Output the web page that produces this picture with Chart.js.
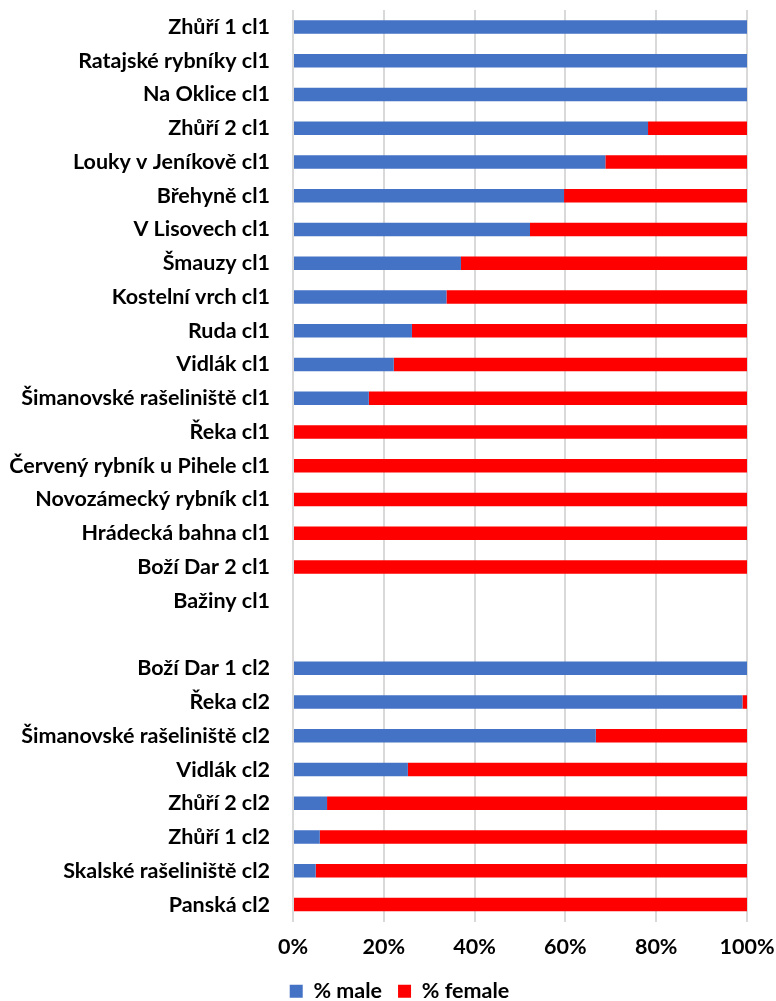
<!DOCTYPE html>
<html>
<head>
<meta charset="utf-8">
<script src="https://cdn.jsdelivr.net/npm/chart.js@4"></script>
<style>
  html, body { margin: 0; padding: 0; background: #fff; }
  #wrap { width: 776px; height: 1001px; position: relative; }
</style>
</head>
<body>
<div id="wrap"><canvas id="chart"></canvas></div>
<script>
// sites, top to bottom ('' is the empty spacer row between cl1 and cl2)
const labels = [
  'Zhůří 1 cl1', 'Ratajské rybníky cl1', 'Na Oklice cl1', 'Zhůří 2 cl1',
  'Louky v Jeníkově cl1', 'Břehyně cl1', 'V Lisovech cl1', 'Šmauzy cl1',
  'Kostelní vrch cl1', 'Ruda cl1', 'Vidlák cl1', 'Šimanovské rašeliniště cl1',
  'Řeka cl1', 'Červený rybník u Pihele cl1', 'Novozámecký rybník cl1',
  'Hrádecká bahna cl1', 'Boží Dar 2 cl1', 'Bažiny cl1', '',
  'Boží Dar 1 cl2', 'Řeka cl2', 'Šimanovské rašeliniště cl2', 'Vidlák cl2',
  'Zhůří 2 cl2', 'Zhůří 1 cl2', 'Skalské rašeliniště cl2', 'Panská cl2'
];

const male = [
  100, 100, 100, 78.2,
  68.8, 59.7, 52.2, 37.0,
  33.8, 26.2, 22.2, 16.7,
  0, 0, 0,
  0, 0, null, null,
  100, 99.0, 66.7, 25.3,
  7.5, 5.9, 5.0, 0
];

const female = [
  0, 0, 0, 21.8,
  31.2, 40.3, 47.8, 63.0,
  66.2, 73.8, 77.8, 83.3,
  100, 100, 100,
  100, 100, null, null,
  0, 1.0, 33.3, 74.7,
  92.5, 94.1, 95.0, 100
];

const xTicks = [0, 20, 40, 60, 80, 100];

const labelFont = { family: 'Lato', weight: 'bold', size: 21.5 };

// nudge the legend a bit right, like the original
const legendShift = {
  id: 'legendShift',
  afterLayout: function(chart) {
    if (chart.legend) {
      chart.legend.left += 22;
      chart.legend.right += 22;
    }
  }
};

const ctx = document.getElementById('chart');

new Chart(ctx, {
  type: 'bar',
  data: {
    labels: labels,
    datasets: [
      {
        label: '% male',
        data: male,
        backgroundColor: '#4472c4',
        barPercentage: 0.4,
        categoryPercentage: 1
      },
      {
        label: '% female',
        data: female,
        backgroundColor: '#ff0000',
        barPercentage: 0.4,
        categoryPercentage: 1
      }
    ]
  },
  plugins: [legendShift],
  options: {
    indexAxis: 'y',
    responsive: true,
    maintainAspectRatio: false,
    animation: false,
    layout: { padding: { top: 10, right: 29, left: 8, bottom: -11 } },
    scales: {
      x: {
        stacked: true,
        min: 0,
        max: 100,
        afterBuildTicks: function(axis) {
          axis.ticks = xTicks.map(function(v){ return { value: v }; });
        },
        afterFit: function(axis) {
          axis.height = 43;
          axis.paddingLeft = 0;
          axis.paddingRight = 0;
        },
        grid: { color: '#d9d9d9', lineWidth: 2, drawTicks: false },
        border: { display: false },
        ticks: {
          padding: 13,
          color: '#000',
          font: labelFont,
          callback: function(v){ return v + '%'; }
        }
      },
      y: {
        stacked: true,
        afterFit: function(axis) {
          axis.width = 285;
          axis.paddingTop = 0;
          axis.paddingBottom = 0;
        },
        grid: {
          display: true,
          drawOnChartArea: false,
          drawTicks: true,
          tickLength: 21,
          color: 'rgba(0,0,0,0)'
        },
        border: { display: false },
        ticks: {
          padding: 2,
          autoSkip: false,
          color: '#000',
          font: labelFont
        }
      }
    },
    plugins: {
      tooltip: { enabled: false },
      legend: {
        position: 'bottom',
        labels: {
          boxWidth: 13,
          boxHeight: 13,
          padding: 16,
          color: '#000',
          font: labelFont
        }
      }
    }
  }
});
</script>
</body>
</html>
